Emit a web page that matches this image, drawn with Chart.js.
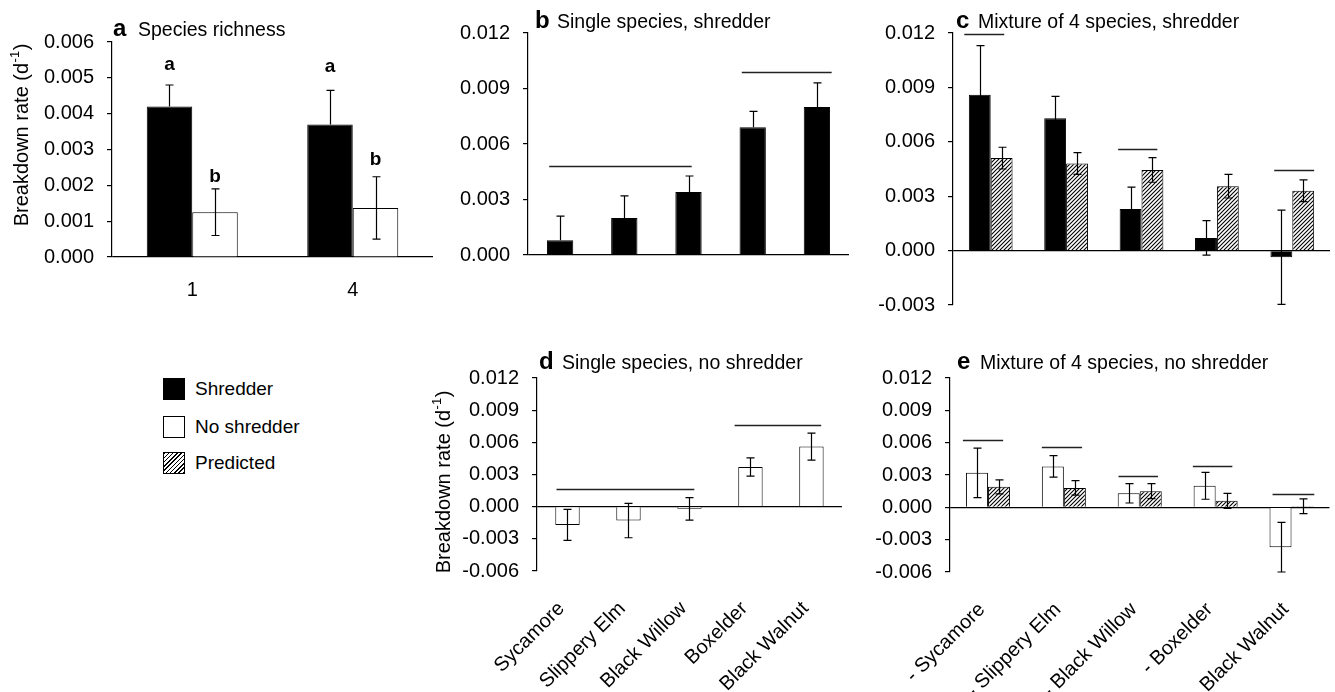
<!DOCTYPE html>
<html>
<head>
<meta charset="utf-8">
<script src="https://cdn.jsdelivr.net/npm/chart.js@4.4.0/dist/chart.umd.min.js"></script>
<style>
html,body{margin:0;padding:0;background:#fff;}
body{width:1335px;height:692px;position:relative;overflow:hidden;font-family:'Liberation Sans',Arial,Helvetica,sans-serif;}
canvas{position:absolute;display:block;}
.legend{position:absolute;left:163px;top:378px;font-size:19px;color:#000;}
.legend .row{position:absolute;left:0;height:22px;white-space:nowrap;}
.legend .box{position:absolute;left:0;top:0;width:22px;height:22px;box-sizing:border-box;border:1px solid #000;}
.legend .txt{position:absolute;left:32px;top:0;line-height:22px;}
.legend .hatch{background:repeating-linear-gradient(135deg,#000 0 1px,#fff 1px 3px);}
</style>
</head>
<body>
<canvas id="pa" width="440" height="310" style="left:0px;top:0px"></canvas>
<canvas id="pb" width="415" height="280" style="left:440px;top:0px"></canvas>
<canvas id="pc" width="465" height="330" style="left:870px;top:0px"></canvas>
<canvas id="pd" width="435" height="362" style="left:420px;top:330px"></canvas>
<canvas id="pe" width="465" height="362" style="left:870px;top:330px"></canvas>

<div class="legend">
  <div class="row" style="top:0px"><div class="box" style="background:#000"></div><div class="txt">Shredder</div></div>
  <div class="row" style="top:38px"><div class="box" style="background:#fff"></div><div class="txt">No shredder</div></div>
  <div class="row" style="top:74px"><div class="box hatch"></div><div class="txt">Predicted</div></div>
</div>

<script>
// ---------------- DATA ----------------
// Panel a: species richness
const richnessLevels = ['1', '4'];
const richShredder = [0.0042, 0.0037];
const richShredderErr = [0.0006, 0.00095];
const richNoShredder = [0.00125, 0.00137];
const richNoShredderErr = [0.00065, 0.00087];
const richShredderLetters = ['a', 'a'];
const richShredderLetterY = [0.00536, 0.0053];
const richNoShredderLetters = ['b', 'b'];
const richNoShredderLetterY = [0.00223, 0.00271];
const ticksA = [0.000, 0.001, 0.002, 0.003, 0.004, 0.005, 0.006];

// Species categories
const speciesNames = ['Sycamore', 'Slippery Elm', 'Black Willow', 'Boxelder', 'Black Walnut'];
const mixtureNames = ['- Sycamore', '- Slippery Elm', '- Black Willow', '- Boxelder', '- Black Walnut'];

// Panel b: single species, shredder
const singleShredder = [0.0008, 0.0020, 0.0034, 0.0069, 0.0080];
const singleShredderErr = [0.0013, 0.0012, 0.00087, 0.00086, 0.0013];
const sigB = [[-0.17, 2.05, 0.0048], [2.83, 4.23, 0.0099]]; // [from category, to category, value]
const ticksB = [0.000, 0.003, 0.006, 0.009, 0.012];

// Panel c: mixture of 4 species, shredder
const mixShredder = [0.0086, 0.0073, 0.0023, 0.0007, -0.00037];
const mixShredderErr = [0.0027, 0.0012, 0.0012, 0.00095, 0.0026];
const mixShredderPred = [0.0051, 0.0048, 0.00445, 0.00355, 0.0033];
const mixShredderPredErr = [0.0006, 0.0006, 0.00068, 0.00065, 0.0006];
const sigC = [[-0.35, 0.18, 0.01195], [1.69, 2.21, 0.0056], [3.76, 4.29, 0.00446]];
const ticksC = [-0.003, 0.000, 0.003, 0.006, 0.009, 0.012];

// Panel d: single species, no shredder
const singleNoShredder = [-0.0017, -0.0013, -0.0002, 0.0037, 0.0056];
const singleNoShredderErr = [0.00145, 0.0016, 0.00105, 0.00085, 0.00125];
const sigD = [[-0.18, 2.08, 0.00164], [2.74, 4.16, 0.00764]];
const ticksD = [-0.006, -0.003, 0.000, 0.003, 0.006, 0.009, 0.012];

// Panel e: mixture of 4 species, no shredder
const mixNoShredder = [0.0032, 0.0038, 0.0013, 0.0020, -0.0037];
const mixNoShredderErr = [0.0023, 0.0010, 0.0009, 0.00125, 0.0023];
const mixNoShredderPred = [0.0019, 0.0018, 0.0015, 0.0006, 0.0001];
const mixNoShredderPredErr = [0.00065, 0.00067, 0.0007, 0.0007, 0.00068];
const sigE = [[-0.33, 0.2, 0.00625], [0.71, 1.24, 0.00563], [1.72, 2.24, 0.00288], [2.7, 3.22, 0.0038], [3.75, 4.3, 0.00127]];
const ticksE = [-0.006, -0.003, 0.000, 0.003, 0.006, 0.009, 0.012];

// ---------------- STYLE / HELPERS ----------------
const FONT = "'Liberation Sans', Arial, Helvetica, sans-serif";
Chart.defaults.font.family = FONT;
Chart.defaults.color = '#000';

function makeHatch() {
  const c = document.createElement('canvas');
  c.width = 4; c.height = 4;
  const g = c.getContext('2d');
  g.fillStyle = '#fff'; g.fillRect(0, 0, 4, 4);
  g.strokeStyle = '#000'; g.lineWidth = 1.1;
  g.beginPath();
  g.moveTo(0, 4); g.lineTo(4, 0);
  g.moveTo(-1, 1); g.lineTo(1, -1);
  g.moveTo(3, 5); g.lineTo(5, 3);
  g.stroke();
  return g.createPattern(c, 'repeat');
}
const HATCH = makeHatch();

const errorBarsPlugin = {
  id: 'errorBars',
  afterDatasetsDraw(chart) {
    const ctx = chart.ctx, ys = chart.scales.y;
    ctx.save();
    ctx.strokeStyle = '#000'; ctx.lineWidth = 1.2;
    chart.data.datasets.forEach((ds, di) => {
      if (!ds.errors) return;
      const meta = chart.getDatasetMeta(di);
      meta.data.forEach((bar, i) => {
        const v = ds.data[i], e = ds.errors[i];
        const x = Math.round(bar.x) + 0.5;
        const yt = ys.getPixelForValue(v + e);
        const yb = ds.upOnly ? ys.getPixelForValue(v) : ys.getPixelForValue(v - e);
        ctx.beginPath();
        ctx.moveTo(x, yt); ctx.lineTo(x, yb);
        ctx.moveTo(x - 4, yt); ctx.lineTo(x + 4, yt);
        if (!ds.upOnly) { ctx.moveTo(x - 4, yb); ctx.lineTo(x + 4, yb); }
        ctx.stroke();
      });
    });
    ctx.restore();
  }
};

const sigPlugin = {
  id: 'sigLines',
  afterDatasetsDraw(chart, args, o) {
    if (!o.lines) return;
    const ctx = chart.ctx, xs = chart.scales.x, ys = chart.scales.y;
    ctx.save();
    ctx.strokeStyle = '#222'; ctx.lineWidth = 1.3;
    o.lines.forEach(([f, t, v]) => {
      const y = Math.round(ys.getPixelForValue(v)) + 0.5;
      ctx.beginPath();
      ctx.moveTo(xs.getPixelForValue(f), y);
      ctx.lineTo(xs.getPixelForValue(t), y);
      ctx.stroke();
    });
    ctx.restore();
  }
};

const titlePlugin = {
  id: 'panelTitle',
  afterDraw(chart, args, o) {
    if (!o.letter) return;
    const ctx = chart.ctx, a = chart.chartArea;
    ctx.save();
    ctx.fillStyle = '#000'; ctx.textBaseline = 'alphabetic'; ctx.textAlign = 'left';
    const x = a.left + o.dx, y = a.top - o.dy;
    ctx.font = 'bold 24px ' + FONT;
    ctx.fillText(o.letter, x, y);
    ctx.font = '19.5px ' + FONT;
    ctx.fillText(o.text, x + o.gap, y);
    ctx.restore();
  }
};

const yTitlePlugin = {
  id: 'yTitle',
  afterDraw(chart, args, o) {
    if (!o.text) return;
    const ctx = chart.ctx, a = chart.chartArea;
    ctx.save();
    ctx.translate(a.left - o.dx, a.top + o.cy);
    ctx.rotate(-Math.PI / 2);
    ctx.fillStyle = '#000'; ctx.textBaseline = 'middle'; ctx.textAlign = 'left';
    const main = '20px ' + FONT, sup = '13px ' + FONT;
    ctx.font = main;
    const w1 = ctx.measureText(o.text).width, w3 = ctx.measureText(')').width;
    ctx.font = sup;
    const w2 = ctx.measureText(o.sup).width;
    let x = -(w1 + w2 + w3 + 1) / 2;
    ctx.font = main; ctx.fillText(o.text, x, 0); x += w1 + 0.5;
    ctx.font = sup; ctx.fillText(o.sup, x, -7); x += w2 + 0.5;
    ctx.font = main; ctx.fillText(')', x, 0);
    ctx.restore();
  }
};

const lettersPlugin = {
  id: 'barLetters',
  afterDatasetsDraw(chart) {
    const ctx = chart.ctx, ys = chart.scales.y;
    ctx.save();
    ctx.fillStyle = '#000'; ctx.textAlign = 'center'; ctx.textBaseline = 'middle';
    ctx.font = 'bold 19px ' + FONT;
    chart.data.datasets.forEach((ds, di) => {
      if (!ds.letters) return;
      const meta = chart.getDatasetMeta(di);
      meta.data.forEach((bar, i) => {
        ctx.fillText(ds.letters[i], bar.x, ys.getPixelForValue(ds.letterY[i]));
      });
    });
    ctx.restore();
  }
};

function barSet(data, errors, fill, catPct, extra) {
  return Object.assign({
    data: data, errors: errors,
    backgroundColor: fill, borderColor: '#000', borderWidth: 1,
    categoryPercentage: catPct, barPercentage: 1
  }, extra || {});
}

function makePanel(id, cfg) {
  return new Chart(document.getElementById(id), {
    type: 'bar',
    data: { labels: cfg.labels, datasets: cfg.datasets },
    options: {
      responsive: false, animation: false, devicePixelRatio: 1,
      layout: { padding: { top: cfg.pt, right: cfg.pr, left: 0, bottom: 0 } },
      plugins: {
        legend: { display: false }, tooltip: { enabled: false }, title: { display: false },
        panelTitle: cfg.title,
        sigLines: { lines: cfg.sig },
        yTitle: cfg.yTitle || {}
      },
      scales: {
        x: {
          type: 'category', offset: true,
          grid: { display: false, drawTicks: false },
          border: { display: false },
          ticks: {
            display: !!cfg.showX, font: { family: FONT, size: 20 }, color: '#000',
            padding: cfg.xpad || 0, minRotation: cfg.rot || 0, maxRotation: cfg.rot || 0, autoSkip: false,
            labelOffset: cfg.rot ? -6 : 0
          },
          afterFit(s) { s.height = cfg.xh; }
        },
        y: {
          min: cfg.ticks[0], max: cfg.ticks[cfg.ticks.length - 1],
          afterBuildTicks(s) { s.ticks = cfg.ticks.map(v => ({ value: v })); },
          grid: {
            color: c => (c.tick && Math.abs(c.tick.value) < 1e-9) ? '#000' : 'rgba(0,0,0,0)',
            tickColor: '#000', tickLength: 5, lineWidth: 1.2
          },
          border: { display: true, color: '#000', width: 1.2 },
          ticks: { font: { family: FONT, size: 20 }, color: '#000', padding: 13, callback: v => Number(v).toFixed(3) },
          afterFit(s) { s.width = cfg.yw; }
        }
      }
    },
    plugins: [errorBarsPlugin, sigPlugin, titlePlugin, yTitlePlugin, lettersPlugin]
  });
}

// ---------------- PANELS ----------------
makePanel('pa', {
  labels: richnessLevels, ticks: ticksA, yw: 112, pt: 42, pr: 7, xh: 53, showX: true, xpad: 21,
  datasets: [
    barSet(richShredder, richShredderErr, '#000', 0.567, { upOnly: true, letters: richShredderLetters, letterY: richShredderLetterY }),
    barSet(richNoShredder, richNoShredderErr, '#fff', 0.567, { letters: richNoShredderLetters, letterY: richNoShredderLetterY })
  ],
  title: { letter: 'a', text: 'Species richness', dx: 1, dy: 6, gap: 25 },
  yTitle: { text: 'Breakdown rate (d', sup: '-1', dx: 89.5, cy: 93 }
});

makePanel('pb', {
  labels: speciesNames, ticks: ticksB, yw: 88, pt: 33, pr: 6, xh: 24, showX: false, sig: sigB,
  datasets: [barSet(singleShredder, singleShredderErr, '#000', 0.41, { upOnly: true })],
  title: { letter: 'b', text: 'Single species, shredder', dx: 7, dy: 5, gap: 22 }
});

makePanel('pc', {
  labels: mixtureNames, ticks: ticksC, yw: 83, pt: 33, pr: 5, xh: 16, showX: false, sig: sigC,
  datasets: [
    barSet(mixShredder, mixShredderErr, '#000', 0.58),
    barSet(mixShredderPred, mixShredderPredErr, HATCH, 0.58)
  ],
  title: { letter: 'c', text: 'Mixture of 4 species, shredder', dx: 3, dy: 5, gap: 22 }
});

makePanel('pd', {
  labels: speciesNames, ticks: ticksD, yw: 117, pt: 48, pr: 6, xh: 121, showX: true, xpad: 26, rot: 45, sig: sigD,
  datasets: [barSet(singleNoShredder, singleNoShredderErr, '#fff', 0.40)],
  title: { letter: 'd', text: 'Single species, no shredder', dx: 2, dy: 9, gap: 23 },
  yTitle: { text: 'Breakdown rate (d', sup: '-1', dx: 92.5, cy: 104 }
});

makePanel('pe', {
  labels: mixtureNames, ticks: ticksE, yw: 80, pt: 48, pr: 5, xh: 120, showX: true, xpad: 26, rot: 45, sig: sigE,
  datasets: [
    barSet(mixNoShredder, mixNoShredderErr, '#fff', 0.58),
    barSet(mixNoShredderPred, mixNoShredderPredErr, HATCH, 0.58)
  ],
  title: { letter: 'e', text: 'Mixture of 4 species, no shredder', dx: 7, dy: 9, gap: 23 }
});
</script>
</body>
</html>
